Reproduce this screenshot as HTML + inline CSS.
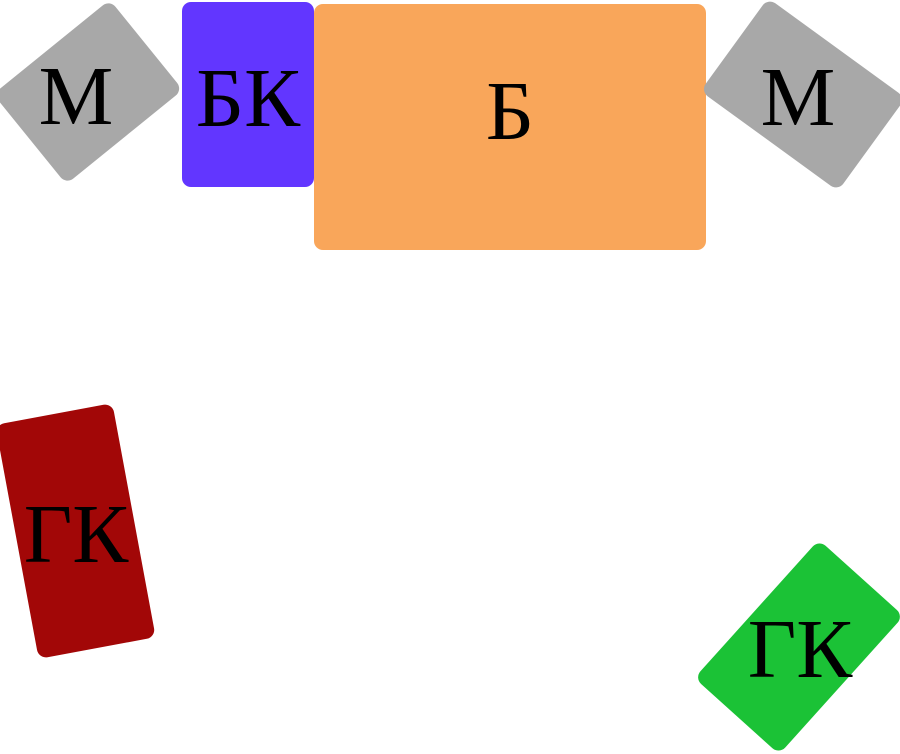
<!DOCTYPE html>
<html><head><meta charset="utf-8"><style>
html,body{margin:0;padding:0;background:#fff;}
body{width:900px;height:750px;position:relative;overflow:hidden;font-family:"Liberation Serif",serif;}
.s{position:absolute;border-radius:9px;}
.t{position:absolute;font-size:84px;line-height:1;color:#000;transform:translate(-50%,-50%);white-space:nowrap;}
</style></head><body>
<div class="s" style="left:314px;top:4px;width:392px;height:246px;background:#F9A65A;"></div>
<div class="s" style="left:182px;top:2px;width:132px;height:185px;background:#6236FF;"></div>
<div class="s" style="left:13px;top:34px;width:150px;height:116px;background:#A8A8A8;transform:rotate(-39deg);"></div>
<div class="s" style="left:718px;top:37px;width:170px;height:115px;background:#A8A8A8;transform:rotate(36deg);"></div>
<div class="s" style="left:16px;top:412px;width:119px;height:238px;background:#A20707;transform:rotate(-10.5deg);"></div>
<div class="s" style="left:706px;top:590px;width:186px;height:114px;background:#1BC236;transform:rotate(-48deg);"></div>
<div class="t" style="left:510px;top:112px;">Б</div>
<div class="t" style="left:248px;top:99px;">БК</div>
<div class="t" style="left:76px;top:97px;">М</div>
<div class="t" style="left:798px;top:98px;">М</div>
<div class="t" style="left:76px;top:535px;">ГК</div>
<div class="t" style="left:800px;top:650px;">ГК</div>
</body></html>
